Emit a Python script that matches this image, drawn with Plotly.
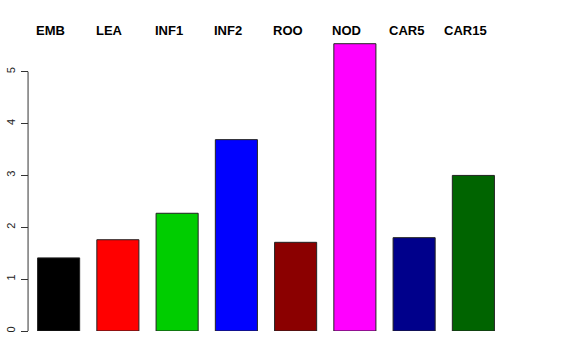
import plotly.graph_objects as go

categories = ["EMB", "LEA", "INF1", "INF2", "ROO", "NOD", "CAR5", "CAR15"]
values = [1.41, 1.76, 2.27, 3.69, 1.71, 5.54, 1.80, 3.00]
colors = ["#000000", "#FF0000", "#00CD00", "#0000FF", "#8B0000", "#FF00FF", "#00008B", "#006400"]
y_ticks = [0, 1, 2, 3, 4, 5]

fig = go.Figure()
fig.add_trace(go.Bar(
    x=categories, y=values,
    marker=dict(color=colors, line=dict(color="#222222", width=1)),
    showlegend=False,
))

for c in categories:
    fig.add_annotation(
        x=c, y=1, xref="x", yref="paper", yanchor="middle",
        text="<b>%s</b>" % c, showarrow=False, xshift=-8, yshift=1,
        font=dict(family="Liberation Sans, Arial, sans-serif", size=13, color="black"),
    )

fig.add_shape(type="line", xref="paper", yref="y", x0=-0.002, x1=-0.002, y0=0, y1=5,
              line=dict(color="#333333", width=1))

fig.update_layout(
    width=576, height=360,
    margin=dict(l=29, r=73, t=31, b=29, pad=0, autoexpand=False),
    plot_bgcolor="white", paper_bgcolor="white",
    bargap=0.29,
    font=dict(family="Liberation Sans, Arial, sans-serif", color="black"),
    xaxis=dict(range=[-0.5, 7.5], showticklabels=False, showline=False, showgrid=False,
               zeroline=False, ticks="", automargin=False),
    yaxis=dict(range=[0, 5.785], tickvals=y_ticks, ticktext=[str(v) for v in y_ticks],
               ticks="outside", ticklen=7, tickcolor="#333333", tickwidth=1,
               tickangle=-90, tickfont=dict(size=11, color="#222222"), ticklabelstandoff=2,
               showline=False, showgrid=False, zeroline=False, automargin=False),
)

fig.write_html("out.html", config={"displayModeBar": False},
               post_script="document.body.style.margin='0';")
